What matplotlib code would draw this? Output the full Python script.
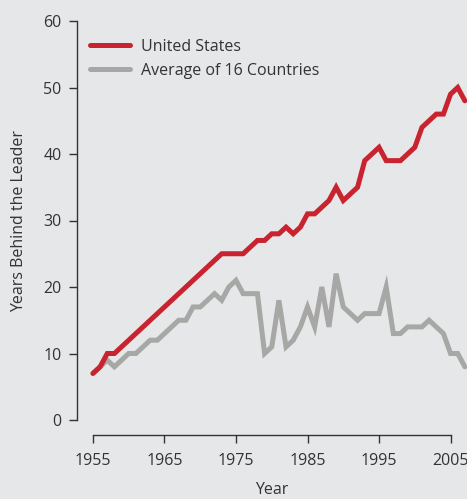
import matplotlib
matplotlib.use("Agg")
import matplotlib.pyplot as plt

years = list(range(1955, 2008))
us = [7, 8, 10, 10, 11, 12, 13, 14, 15, 16, 17, 18, 19, 20, 21, 22, 23, 24, 25, 25,
      25, 25, 26, 27, 27, 28, 28, 29, 28, 29, 31, 31, 32, 33, 35, 33, 34, 35, 39, 40,
      41, 39, 39, 39, 40, 41, 44, 45, 46, 46, 49, 50, 48]
avg16 = [7, 8, 9, 8, 9, 10, 10, 11, 12, 12, 13, 14, 15, 15, 17, 17, 18, 19, 18, 20,
         21, 19, 19, 19, 10, 11, 18, 11, 12, 14, 17, 14, 20, 14, 22, 17, 16, 15, 16, 16,
         16, 20, 13, 13, 14, 14, 14, 15, 14, 13, 10, 10, 8]

yticks = [0, 10, 20, 30, 40, 50, 60]
xticks = [1955, 1965, 1975, 1985, 1995, 2005]

bg = "#e6e7e9"
txt = "#333333"
plt.rcParams['font.family'] = ['Open Sans', 'DejaVu Sans']
plt.rcParams['font.size'] = 11.5

fig = plt.figure(figsize=(4.67, 4.99), dpi=100, facecolor=bg)
ax = fig.add_axes([77/467, 1 - 420/499, 1 - 77/467, (420 - 21)/499])
ax.set_facecolor(bg)

ax.plot(years, avg16, color="#a7a7a5", lw=3.6, solid_capstyle='round',
        solid_joinstyle='miter', label="Average of 16 Countries", zorder=2)
ax.plot(years, us, color="#c8232f", lw=3.6, solid_capstyle='round',
        solid_joinstyle='miter', label="United States", zorder=3)

ax.set_xlim(1952.77, 2007.3)
ax.set_ylim(0, 60)
ax.set_xticks(xticks)
ax.set_yticks(yticks)

for s in ["top", "right"]:
    ax.spines[s].set_visible(False)
ax.spines["left"].set_bounds(0, 60)
ax.spines["bottom"].set_bounds(1955, 2005)
ax.spines["bottom"].set_position(("outward", 11))
for s in ["left", "bottom"]:
    ax.spines[s].set_color(txt)
    ax.spines[s].set_linewidth(1)
ax.tick_params(colors=txt, length=6, width=1, labelcolor=txt)
ax.tick_params(axis="x", pad=7)
ax.tick_params(axis="y", pad=5)

ax.set_xlabel("Year", color=txt, labelpad=9)
ax.set_ylabel("Years Behind the Leader", color=txt, labelpad=12)

h, l = ax.get_legend_handles_labels()
leg = fig.legend(h[::-1], l[::-1], loc="upper left", bbox_to_anchor=(90/467, 1 - 39/499),
                 frameon=False, handlelength=2.5, handletextpad=0.7, labelspacing=0.5,
                 borderpad=0, borderaxespad=0)
for t in leg.get_texts():
    t.set_color(txt)

fig.savefig("out.png", dpi=100, facecolor=bg)
